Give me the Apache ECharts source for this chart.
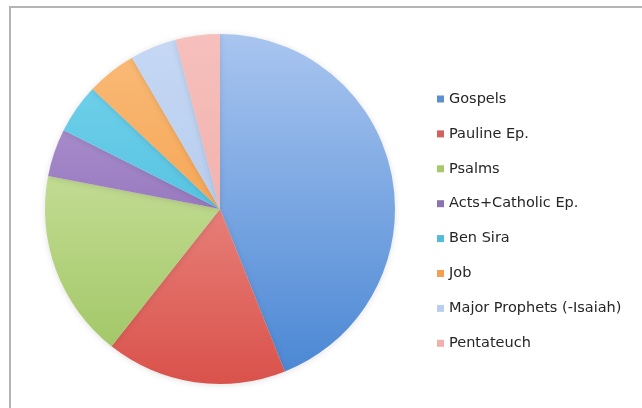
<!DOCTYPE html>
<html>
<head>
<meta charset="utf-8">
<script src="https://cdn.jsdelivr.net/npm/echarts@6/dist/echarts.min.js"></script>
<style>
html,body{margin:0;padding:0;background:#fff;}
#chart{width:642px;height:408px;}
</style>
</head>
<body>
<div id="chart"></div>
<script>
// Data (percent shares)
var categories = ["Gospels", "Pauline Ep.", "Psalms", "Acts+Catholic Ep.", "Ben Sira", "Job", "Major Prophets (-Isaiah)", "Pentateuch"];
var values = [44.0, 16.7, 17.4, 4.4, 4.6, 4.6, 4.3, 4.1];

// Styling
var topColors = ["#aac6f0", "#f4aca6", "#dcecb6", "#b79fd8", "#7ad4ec", "#f9bc7a", "#c6d8f4", "#f6c0bc"];
var bottomColors = ["#4785d3", "#d9514a", "#9cc35e", "#7a57a8", "#32b4d8", "#f39234", "#a8c2ea", "#eea6a2"];
var legendColors = ["#5b8fcf", "#d2625c", "#a8c86c", "#8c72b2", "#4fbcd8", "#f4a050", "#b9cdee", "#f1b0ac"];

var chart = echarts.init(document.getElementById('chart'), null, {renderer: 'canvas'});

var pieData = categories.map(function (c, i) {
  return {
    name: c,
    value: values[i],
    itemStyle: {
      color: new echarts.graphic.LinearGradient(0, 30, 0, 388, [
        {offset: 0, color: topColors[i]},
        {offset: 1, color: bottomColors[i]}
      ], true)
    }
  };
});

var option = {
  backgroundColor: '#ffffff',
  animation: false,
  graphic: [
    {
      type: 'polyline',
      shape: {points: [[10, 408], [10, 7], [642, 7]]},
      style: {stroke: '#b4b4b4', lineWidth: 2, fill: null},
      silent: true
    }
  ],
  legend: {
    orient: 'vertical',
    left: 432,
    top: 86,
    itemWidth: 7,
    itemHeight: 7,
    itemGap: 18.9,
    icon: 'rect',
    textStyle: {
      fontFamily: 'DejaVu Sans',
      fontSize: 14.5,
      color: '#262626',
      lineHeight: 16
    },
    data: categories.map(function (c, i) {
      return {name: c, itemStyle: {color: legendColors[i]}};
    })
  },
  series: [
    {
      type: 'pie',
      center: [220, 209],
      radius: [0, 175],
      startAngle: 90,
      clockwise: true,
      label: {show: false},
      labelLine: {show: false},
      emphasis: {disabled: true},
      itemStyle: {
        borderWidth: 0,
        shadowBlur: 6,
        shadowColor: 'rgba(0,0,0,0.12)',
        shadowOffsetY: 1
      },
      data: pieData
    }
  ]
};
chart.setOption(option);
</script>
</body>
</html>
